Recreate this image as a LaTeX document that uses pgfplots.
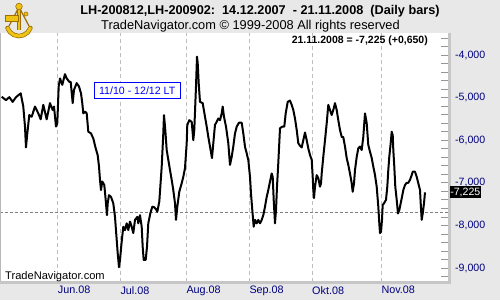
\documentclass[border=0pt]{standalone}
\usepackage{pgfplots}
\pgfplotsset{compat=1.18}
\usepackage{fontspec}
\setmainfont{Liberation Sans}
\definecolor{bggray}{RGB}{232,232,232}
\definecolor{tnblue}{RGB}{0,0,128}
\definecolor{bordergray}{RGB}{198,198,198}
\definecolor{gridgray}{RGB}{190,190,190}
\definecolor{tickgray}{RGB}{150,150,150}
\definecolor{gold}{RGB}{238,196,20}
\definecolor{darkgold}{RGB}{160,110,0}
\begin{document}
\begin{tikzpicture}[x=1pt,y=1pt]
\fill[bggray] (0,0) rectangle (500,300);
\useasboundingbox (0,0) rectangle (500,300);
\begin{axis}[
  at={(0pt,18.5pt)}, anchor=south west,
  scale only axis, width=448pt, height=248.5pt,
  xmin=-19.23, xmax=130.1, ymin=-9316, ymax=-3484,
  clip=false,
  axis background/.style={fill=white},
  axis line style={draw=none},
  xtick={0,20.87,42.87,63.87,84.77,107.87},
  xticklabels={Jun.08,Jul.08,Aug.08,Sep.08,Okt.08,Nov.08},
  xtick style={draw=none},
  xmajorgrids,
  major x grid style={gridgray, dash pattern=on 4pt off 3pt, line width=1pt},
  xticklabel style={anchor=north west, inner sep=0pt, yshift=-4.5pt, font=\fontsize{10.8}{12}\selectfont, text=tnblue},
  ytick={-9000,-8000,-7000,-6000,-5000,-4000},
  yticklabels={{-9,000},{-8,000},{-7,000},{-6,000},{-5,000},{-4,000}},
  minor ytick={-9200,-9000,...,-3600},
  ytick pos=right, yticklabel pos=right,
  tick align=inside,
  major tick length=7pt, minor tick length=7pt,
  ytick style={tickgray, line width=0.8pt},
  minor tick style={tickgray, line width=0.8pt},
  yticklabel style={anchor=west, inner sep=0pt, xshift=7pt, font=\fontsize{10.6}{12}\selectfont, text=tnblue},
]
\draw[gray, dash pattern=on 3pt off 2pt, line width=1pt] (axis cs:-19.23,-7700) -- (axis cs:130.1,-7700);
\addplot[black, line width=2pt, line join=round] coordinates {
(-18.67,-4980) (-17.23,-5060) (-16.13,-4990) (-15.0,-5100) (-13.9,-4990) (-12.33,-4900) (-11.47,-5210) (-10.9,-5680) (-10.57,-6170) (-10.13,-5840) (-9.47,-5410) (-8.67,-5450) (-7.57,-5210) (-6.47,-5370) (-5.67,-5510) (-4.8,-5170) (-3.67,-5510) (-2.57,-5130) (-1.67,-5290) (-1.23,-5210) (-0.57,-5680) (-0.13,-5600) (0.33,-4740) (0.77,-4550) (1.53,-4700) (2.43,-4450) (3.0,-4550) (3.87,-4630) (4.33,-4630) (5.0,-5130) (5.43,-4820) (6.33,-4660)
(7.1,-4740) (7.77,-4900) (8.2,-5130) (8.53,-5370) (9.1,-5330) (9.67,-5370) (10.2,-5800) (11.1,-5840) (11.87,-5960) (12.67,-6190) (13.33,-6350) (13.77,-6620) (14.1,-6930) (14.43,-7170) (14.87,-6970) (15.53,-7050) (16.0,-7400) (16.43,-7760) (16.67,-7480) (17.1,-7290) (17.77,-7330) (18.53,-7480) (19.1,-7800) (19.67,-8340) (20.0,-8650) (20.43,-8980) (20.77,-8810) (21.33,-8380) (21.87,-8030) (22.43,-8110) (23.0,-7950) (23.53,-8110) (24.1,-7910) (24.67,-8030) (25.2,-8180) (25.77,-7870) (26.53,-7800) (26.87,-7950) (27.43,-7760) (28.0,-8030) (28.33,-8500) (28.67,-8810) (29.33,-8810) (29.77,-8500) (30.2,-7950) (30.87,-7720) (31.53,-7560)
(32.1,-7570) (32.77,-7620) (33.2,-7680) (33.87,-7440) (34.67,-6620) (35.2,-5840) (35.43,-5410) (35.87,-5760) (36.33,-6230) (36.87,-6460) (37.43,-6700) (38.0,-6930) (38.53,-7170) (39.1,-7480) (39.43,-7870) (39.87,-7560) (40.53,-7210) (41.33,-7010) (41.87,-6860) (42.43,-6660) (43.0,-6070) (43.2,-5640) (43.87,-5530) (44.67,-5570) (45.2,-6000) (45.53,-5760) (46.1,-4740) (46.43,-4040) (46.67,-4190) (47.0,-4660) (47.43,-5100) (48.33,-5130) (49.1,-5450) (49.67,-5680) (50.2,-5920) (50.77,-6150) (51.43,-6420) (51.87,-6070) (52.43,-5640) (53.0,-5570) (53.53,-5490) (54.1,-5530) (54.67,-5370) (55.0,-5210) (55.43,-5450) (56.1,-5680) (56.87,-6070) (57.43,-6580)
(58.0,-6390) (58.53,-6150) (59.1,-5840) (59.67,-5680) (60.43,-5590) (61.33,-5590) (61.87,-5840) (62.43,-6150) (63.0,-6310) (63.53,-6460) (64.1,-6860) (64.43,-7250) (64.87,-7640) (65.33,-8030) (65.77,-7870) (66.33,-7950) (66.87,-7870) (67.43,-7950) (68.0,-7870) (68.53,-7760) (69.1,-7560) (69.67,-7330) (70.2,-7170) (70.77,-6970) (71.33,-6780) (71.67,-6860) (72.0,-7400) (72.43,-7950) (72.77,-7640) (73.1,-7090) (73.53,-6540) (74.1,-5720) (74.87,-5680) (75.53,-5680) (76.0,-5370) (76.67,-5100) (77.43,-5070) (78.0,-5170) (78.53,-5290) (79.1,-5490) (79.67,-5760) (80.2,-6070) (80.77,-6130) (81.33,-6170)
(81.87,-6000) (82.43,-5820) (83.0,-6000) (83.53,-6190) (84.1,-6350) (84.67,-6460) (85.0,-6860) (85.2,-7170) (85.43,-7360) (85.77,-7090) (86.33,-6820) (86.87,-6890) (87.43,-7090) (87.77,-7010) (88.0,-6780) (88.53,-6390) (89.1,-6000) (89.67,-5600) (90.2,-5170) (90.77,-5290) (91.33,-5410) (91.87,-5290) (92.43,-5130) (93.0,-5290) (93.53,-5530) (94.1,-5760) (94.67,-5920) (95.2,-5930) (95.77,-6150) (96.33,-6420) (96.87,-6580) (97.43,-6780) (98.0,-7010) (98.33,-7210) (98.77,-7010) (99.1,-6700) (99.67,-6390) (100.2,-6190) (100.77,-6150) (101.33,-6230) (101.87,-5920) (102.43,-5370) (103.0,-5600) (103.53,-6110) (104.1,-6270) (104.67,-6420) (105.2,-6620) (105.77,-6820) (106.33,-7090) (106.87,-7560) (107.2,-7950)
(107.43,-8180) (107.77,-8150) (108.1,-7870) (108.33,-7520) (108.77,-7480) (109.43,-7400) (109.87,-7090) (110.2,-6700) (110.53,-6390) (111.0,-6070) (111.33,-5800) (111.67,-5880) (111.87,-6230) (112.2,-6620) (112.53,-7090) (113.0,-7400) (113.43,-7720) (113.87,-7640) (114.33,-7480) (114.77,-7330) (115.2,-7170) (115.77,-7050) (116.33,-7000) (116.87,-7000) (117.43,-6930) (118.0,-6820) (118.33,-6740) (119.1,-6740) (119.67,-6860) (120.2,-7010) (120.77,-7170) (121.0,-7480) (121.33,-7870) (121.67,-7720) (122.1,-7480) (122.43,-7225)
};
\draw[bordergray!80!gray, line width=1pt] (rel axis cs:0,0) -- (rel axis cs:0,1);
\draw[bordergray, line width=3pt] ([xshift=1pt]rel axis cs:1,1) -- ([xshift=1pt,yshift=-1pt]rel axis cs:1,0) -- ([yshift=-1pt]rel axis cs:0,0);
\end{axis}
% titles
\node[anchor=base, inner sep=0pt, font=\fontsize{12.7}{14}\selectfont\bfseries] at (260,285) {LH-200812,LH-200902:\ \ 14.12.2007\ \ - 21.11.2008\ \ (Daily bars)};
\node[anchor=base, inner sep=0pt, font=\fontsize{12.8}{14}\selectfont] at (250.5,270) {TradeNavigator.com © 1999-2008 All rights reserved};
\node[anchor=base east, inner sep=0pt, font=\fontsize{10.5}{12}\selectfont\bfseries] at (428,256.7) {21.11.2008 = -7,225 (+0,650)};
\node[draw=blue, fill=white, line width=1pt, text=blue, minimum width=85.7pt, minimum height=15.6pt, inner sep=0pt, font=\fontsize{10.6}{12}\selectfont] at (137.2,209.5) {11/10 - 12/12 LT};
\node[anchor=base west, inner sep=0pt, font=\fontsize{11.1}{12}\selectfont] at (5,20.7) {TradeNavigator.com};
\node[anchor=west, fill=black, text=white, inner sep=0.6pt, minimum height=12.3pt, font=\fontsize{10.6}{12}\selectfont] at (449.5,107.8) {-7,225};
% logo (sextant)
\draw[darkgold, line width=4.5pt, line cap=round] (7.5,272) arc (200:340:12.2);
\draw[gold, line width=3pt, line cap=round] (7.5,272) arc (200:340:12.2);
\draw[darkgold, line width=1.2pt] (19,293) -- (9,274) (19,293) -- (29,274);
\draw[darkgold, line width=4pt] (19,294) -- (19,270);
\draw[gold, line width=2.6pt] (19,294) -- (19,270);
\fill[gold, draw=darkgold, line width=0.6pt] (5,278.5) rectangle (18,284.5);
\fill[gold, draw=darkgold, line width=0.6pt] (19,293.5) circle (3.3);
\fill[gold, draw=darkgold, line width=0.6pt] (26,286) circle (2);
\end{tikzpicture}
\end{document}
